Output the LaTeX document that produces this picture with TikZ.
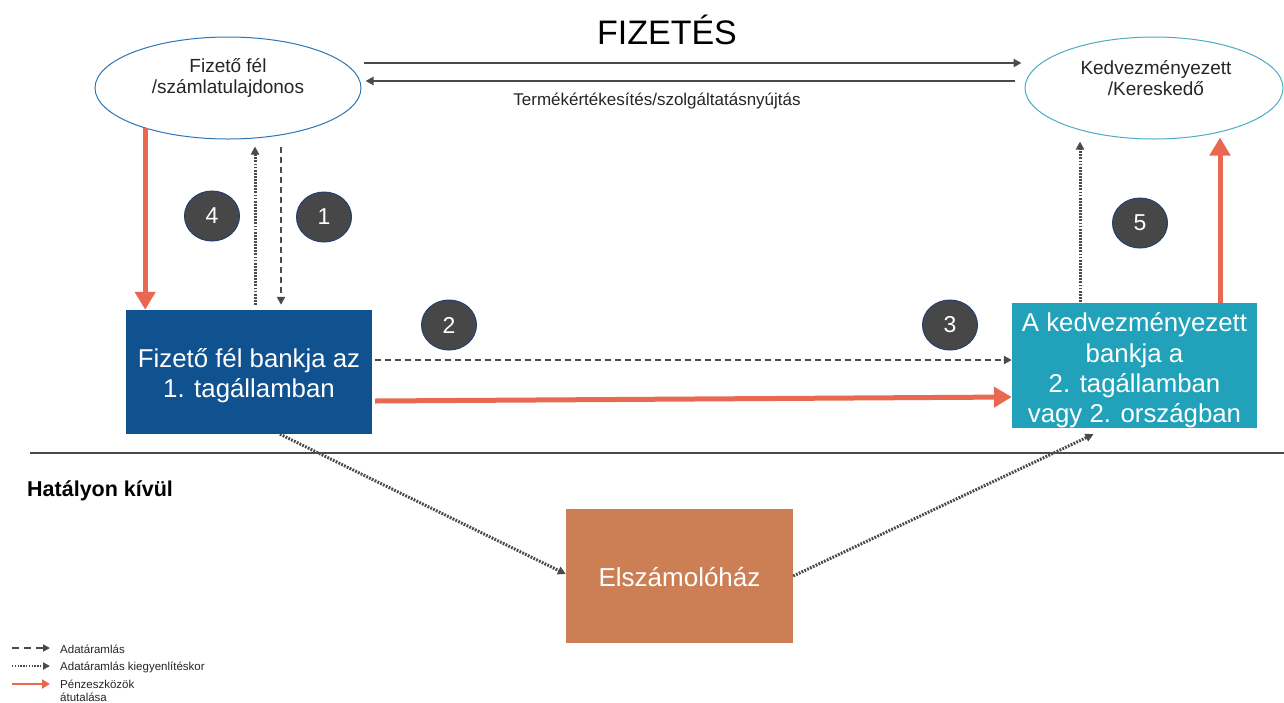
\documentclass[tikz,border=0pt]{standalone}
\usepackage{fontspec}
\setmainfont{Liberation Sans}
\usetikzlibrary{arrows.meta,shapes.geometric,calc}

\definecolor{payerblue}{HTML}{2E75B6}
\definecolor{payeeteal}{HTML}{4BACC6}
\definecolor{bankone}{HTML}{10528F}
\definecolor{banktwo}{HTML}{22A2BA}
\definecolor{clearing}{HTML}{CC7F55}
\definecolor{fundred}{HTML}{E8694F}
\definecolor{flowgray}{HTML}{4A4A4A}
\definecolor{badgefill}{HTML}{474747}
\definecolor{badgeedge}{HTML}{243F73}
\definecolor{textdark}{HTML}{262626}

\tikzset{
  party/.style={ellipse, draw, line width=1pt, inner sep=0pt},
  partytext/.style={text=textdark, align=center, font=\fontsize{19}{21.5}\selectfont},
  bankbox/.style={rectangle, inner sep=0pt},
  banktext/.style={text=white, align=center, inner sep=0pt,
    font=\fontsize{25.8}{30.3}\selectfont},
  badge/.style={ellipse, fill=badgefill, draw=badgeedge, line width=1pt,
    minimum width=55pt, minimum height=50pt, inner sep=0pt, text=white,
    font=\fontsize{23}{23}\selectfont},
  dataflow/.style={draw=flowgray, line width=2.2pt, dash pattern=on 6pt off 4pt,
    -{Triangle[length=8pt,width=8pt]}, flowgray},
  settleflow/.style={draw=flowgray, line width=3pt, dash pattern=on 1.8pt off 1.3pt,
    -{Triangle[length=8pt,width=8pt]}, flowgray},
  tradeflow/.style={draw=flowgray, line width=2.4pt,
    -{Triangle[length=8pt,width=8pt]}, flowgray},
  fundflow/.style={draw=fundred, line width=5pt,
    -{Triangle[length=18pt,width=20pt]}, fundred},
  legendtext/.style={anchor=west, inner sep=0pt, text=textdark,
    font=\fontsize{11.5}{13}\selectfont, align=left}
}

\begin{document}
\begin{tikzpicture}[x=1pt,y=-1pt]
\useasboundingbox[fill=white] (0,0) rectangle (1284,702);

% title
\node[font=\fontsize{34}{34}\selectfont] (title) at (667,30) {FIZETÉS};

% the two parties
\node[party, draw=payerblue, minimum width=266pt, minimum height=102pt] (payer) at (228,88) {};
\node[partytext] (payertext) at ($(payer.center)+(0,-10)$) {Fizető fél\\/számlatulajdonos};
\node[party, draw=payeeteal, minimum width=258pt, minimum height=102pt] (payee) at (1154,88) {};
\node[partytext] (payeetext) at ($(payee.center)+(2,-10)$) {Kedvezményezett\\/Kereskedő};

% trade between the parties
\draw[tradeflow] ($(payer.east)+(2,-25)$) -- ($(payee.west)+(-3,-25)$);
\draw[tradeflow] ($(payee.west)+(-10,-7)$) -- ($(payer.east)+(4,-7)$);
\node[text=textdark, font=\fontsize{17}{18}\selectfont] (tradelabel) at (657,101)
  {Termékértékesítés/szolgáltatásnyújtás};

% banks and clearing house
\node[bankbox, fill=bankone, minimum width=246pt, minimum height=124pt] (bank1) at (249,372) {};
\node[banktext] (bank1text) at ($(bank1.center)+(0,4)$) {Fizető fél bankja az\\1. tagállamban};
\node[bankbox, fill=banktwo, minimum width=245pt, minimum height=125pt] (bank2) at (1134.5,365.5) {};
\node[banktext] (bank2text) at ($(bank2.center)+(0,5)$)
  {A kedvezményezett\\bankja a\\2. tagállamban\\vagy 2. országban};
\node[bankbox, fill=clearing, minimum width=227pt, minimum height=134pt] (clear) at (679.5,576) {};
\node[banktext, font=\fontsize{26}{30}\selectfont] (cleartext) at ($(clear.center)+(0,1)$) {Elszámolóház};

% scope boundary
\draw[flowgray, line width=2pt] (30,453) -- (1284,453);
\node[anchor=west, inner sep=0pt, font=\bfseries\fontsize{21.5}{24}\selectfont] (outscope) at (27,491)
  {Hatályon kívül};

% payer side
\draw[fundflow] (payer.206) -- (payer.206 |- bank1.north);
\draw[settleflow] ($(bank1.north)+(6,-5)$) -- ($(payer.south)+(27,7)$);
\draw[dataflow] ($(payer.south)+(53,7)$) -- ($(bank1.north)+(32,-5)$);

% bank to bank
\draw[dataflow] ($(bank1.east)+(3,-12)$) -- ($(bank2.west)+(0,-5.5)$);
\draw[fundflow] ($(bank1.east)+(3,29)$) -- ($(bank2.west)+(0,31.5)$);

% payee side
\draw[settleflow] ($(bank2.north)+(-54.5,-1)$) -- ($(payee.south)+(-74,2)$);
\draw[fundflow] ($(bank2.north)+(85.5,0)$) -- ($(payee.south)+(66,-2)$);

% settlement through the clearing house
\draw[settleflow] ($(bank1.south)+(31,0)$) -- ($(clear.west)+(0,-2)$);
\draw[settleflow] (clear.east) -- ($(bank2.south)+(-41,6)$);

% step numbers
\node[badge] (s4) at (212,216) {4};
\node[badge] (s1) at (324,217) {1};
\node[badge] (s2) at (449,325) {2};
\node[badge] (s3) at (950,325) {3};
\node[badge] (s5) at (1140,223) {5};

% legend
\coordinate (lg1a) at (12,648); \coordinate (lg1b) at (50,648);
\coordinate (lg2a) at (12,666); \coordinate (lg2b) at (50,666);
\coordinate (lg3a) at (12,684); \coordinate (lg3b) at (50,684);
\draw[draw=flowgray, line width=2pt, dash pattern=on 7pt off 5pt,
  -{Triangle[length=7pt,width=7pt]}, flowgray] (lg1a) -- (lg1b);
\draw[draw=flowgray, line width=2pt, dash pattern=on 1.4pt off 1.4pt,
  -{Triangle[length=7pt,width=7pt]}, flowgray] (lg2a) -- (lg2b);
\draw[draw=fundred, line width=2.5pt,
  -{Triangle[length=8pt,width=9pt]}, fundred] (lg3a) -- (lg3b);
\node[legendtext] (lt1) at (60,649) {Adatáramlás};
\node[legendtext] (lt2) at (60,667) {Adatáramlás kiegyenlítéskor};
\node[legendtext] (lt3) at (60,691) {Pénzeszközök\\átutalása};
\end{tikzpicture}
\end{document}
